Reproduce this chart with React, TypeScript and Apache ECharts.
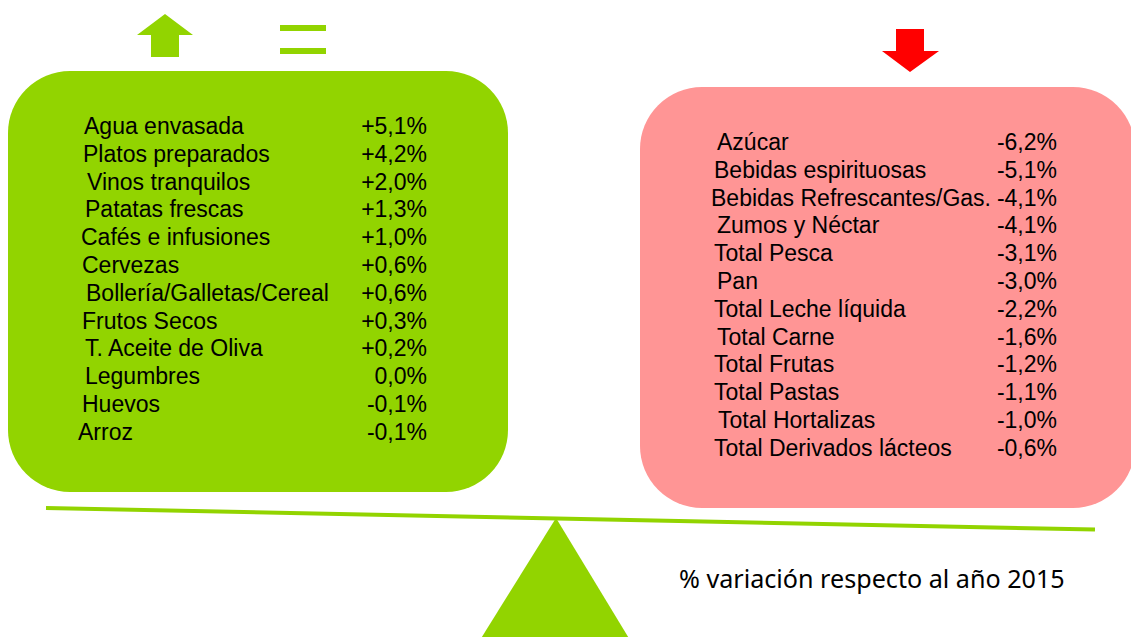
import React, { useEffect, useRef } from "react";
import * as echarts from "echarts";

// ---- data ----
const risingCategories = [
  "Agua envasada",
  "Platos preparados",
  "Vinos tranquilos",
  "Patatas frescas",
  "Cafés e infusiones",
  "Cervezas",
  "Bollería/Galletas/Cereal",
  "Frutos Secos",
  "T. Aceite de Oliva",
  "Legumbres",
  "Huevos",
  "Arroz",
];
const risingValues = [5.1, 4.2, 2.0, 1.3, 1.0, 0.6, 0.6, 0.3, 0.2, 0.0, -0.1, -0.1];

const fallingCategories = [
  "Azúcar",
  "Bebidas espirituosas",
  "Bebidas Refrescantes/Gas.",
  "Zumos y Néctar",
  "Total Pesca",
  "Pan",
  "Total Leche líquida",
  "Total Carne",
  "Total Frutas",
  "Total Pastas",
  "Total Hortalizas",
  "Total Derivados lácteos",
];
const fallingValues = [-6.2, -5.1, -4.1, -4.1, -3.1, -3.0, -2.2, -1.6, -1.2, -1.1, -1.0, -0.6];

const footnote = "% variación respecto al año 2015";

// ---- layout (not data) ----
const leftIndent = [84, 83, 87, 85, 81, 82, 86, 82, 85, 85, 82, 78];
const rightIndent = [717, 714, 711, 717, 714, 717, 714, 717, 714, 714, 718, 714];

const GREEN = "#92D400";
const PINK = "#FF9595";
const RED = "#FF0000";
const FONT = "'Liberation Sans', Arial, sans-serif";

const fmt = (v: number) => (v > 0 ? "+" : "") + v.toFixed(1).replace(".", ",") + "%";

export default function App() {
  const ref = useRef<HTMLDivElement>(null);
  useEffect(() => {
    document.body.style.margin = "0";
    if (!ref.current) return;
    const chart = echarts.init(ref.current, undefined, { renderer: "svg" });

    // measure footnote width to fit a narrow look
    let footScale = 1;
    try {
      const c = document.createElement("canvas").getContext("2d");
      if (c) {
        c.font = "25px 'Noto Sans'";
        const w = c.measureText(footnote).width;
        if (w > 0) footScale = 386 / w;
      }
    } catch (e) {}

    const rowStep = 27.8;
    const elements: any[] = [];

    // boxes
    elements.push({
      type: "rect",
      shape: { x: 8, y: 71, width: 500, height: 421, r: 62 },
      style: { fill: GREEN },
    });
    elements.push({
      type: "rect",
      shape: { x: 640, y: 87, width: 495, height: 421, r: 62 },
      style: { fill: PINK },
    });

    // up arrow
    elements.push({
      type: "polygon",
      shape: {
        points: [
          [165, 14],
          [193, 35],
          [179, 35],
          [179, 57],
          [151, 57],
          [151, 35],
          [137, 35],
        ],
      },
      style: { fill: GREEN },
    });
    // equal sign
    elements.push({ type: "rect", shape: { x: 280, y: 25, width: 46, height: 6 }, style: { fill: GREEN } });
    elements.push({ type: "rect", shape: { x: 280, y: 48, width: 46, height: 6 }, style: { fill: GREEN } });
    // down arrow
    elements.push({
      type: "polygon",
      shape: {
        points: [
          [896, 29],
          [924, 29],
          [924, 51],
          [939, 51],
          [910, 72],
          [882, 51],
          [896, 51],
        ],
      },
      style: { fill: RED },
    });

    // beam and fulcrum
    elements.push({
      type: "line",
      shape: { x1: 46, y1: 508, x2: 1095, y2: 529.5 },
      style: { stroke: GREEN, lineWidth: 4 },
    });
    elements.push({
      type: "polygon",
      shape: {
        points: [
          [556, 518],
          [630, 640],
          [480, 640],
        ],
      },
      style: { fill: GREEN },
    });

    // lists
    risingCategories.forEach((name, i) => {
      const y = 126 + i * rowStep;
      elements.push({
        type: "text",
        x: leftIndent[i],
        y,
        style: { text: name, fill: "#000", font: `23px ${FONT}`, textAlign: "left", textVerticalAlign: "middle" },
      });
      elements.push({
        type: "text",
        x: 427,
        y,
        style: {
          text: fmt(risingValues[i]),
          fill: "#000",
          font: `23px ${FONT}`,
          textAlign: "right",
          textVerticalAlign: "middle",
        },
      });
    });
    fallingCategories.forEach((name, i) => {
      const y = 142 + i * rowStep;
      elements.push({
        type: "text",
        x: rightIndent[i],
        y,
        style: { text: name, fill: "#000", font: `23px ${FONT}`, textAlign: "left", textVerticalAlign: "middle" },
      });
      elements.push({
        type: "text",
        x: 1057,
        y,
        style: {
          text: fmt(fallingValues[i]),
          fill: "#000",
          font: `23px ${FONT}`,
          textAlign: "right",
          textVerticalAlign: "middle",
        },
      });
    });

    // footnote
    elements.push({
      type: "text",
      x: 679,
      y: 578,
      scaleX: footScale,
      style: {
        text: footnote,
        fill: "#000",
        font: "25px 'Noto Sans'",
        textAlign: "left",
        textVerticalAlign: "middle",
      },
    });

    chart.setOption({
      animation: false,
      backgroundColor: "#ffffff",
      graphic: { elements },
    });
    return () => chart.dispose();
  }, []);
  return <div ref={ref} style={{ width: 1131, height: 637 }} />;
}
